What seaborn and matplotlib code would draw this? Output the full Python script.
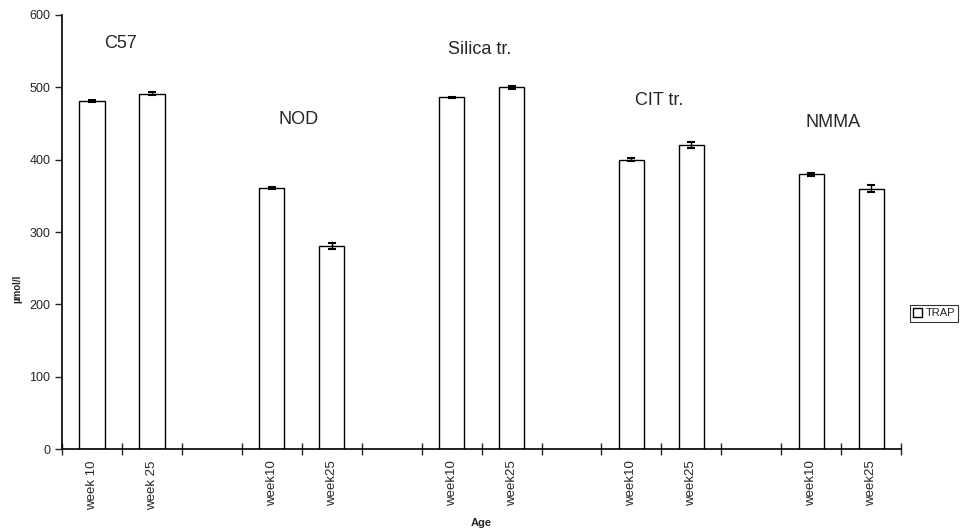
import numpy as np
import pandas as pd
import matplotlib
matplotlib.use("Agg")
import matplotlib.pyplot as plt
import seaborn as sns
from matplotlib.patches import Patch

# Data
slots = ["w10_C57", "w25_C57", "gap1", "w10_NOD", "w25_NOD", "gap2",
         "w10_Sil", "w25_Sil", "gap3", "w10_CIT", "w25_CIT", "gap4",
         "w10_NMMA", "w25_NMMA"]
tick_labels = ["week 10", "week 25", "", "week10", "week25", "",
               "week10", "week25", "", "week10", "week25", "",
               "week10", "week25"]
trap = [481, 491, np.nan, 361, 281, np.nan, 486, 500, np.nan,
        400, 420, np.nan, 380, 360]
trap_err = [2, 2, np.nan, 1, 4, np.nan, 1, 2, np.nan,
            2, 4, np.nan, 2, 5]
groups = ["C57", "NOD", "Silica tr.", "CIT tr.", "NMMA"]
group_x = [0.48, 3.45, 6.47, 9.47, 12.37]
group_y = [560, 455, 552, 482, 452]

sns.set_style("white")
plt.rcParams["font.family"] = ["Liberation Sans", "DejaVu Sans"]

df = pd.DataFrame({"slot": slots, "trap": trap})

fig = plt.figure(figsize=(9.69, 5.31), dpi=100)
ax = fig.add_axes([0.064, 0.154, 0.866, 0.818])

sns.barplot(data=df, x="slot", y="trap", order=slots, color="white",
            edgecolor="black", linewidth=1.0, width=0.42, errorbar=None, ax=ax)
ax.errorbar(np.arange(len(slots)), trap, yerr=trap_err, fmt="none",
            ecolor="black", elinewidth=1.0, capsize=3, capthick=1.5)

ax.set_xlim(-0.5, len(slots) - 0.5)
ax.set_ylim(0, 600)
ax.set_yticks(range(0, 601, 100))
ax.tick_params(axis="y", labelsize=9, length=5, width=1, direction="out", left=True)

# boundary ticks (no labels) + centered labels
ax.set_xticks(np.arange(-0.5, len(slots), 1))
ax.set_xticklabels([])
ax.tick_params(axis="x", which="major", length=8, width=1, direction="inout", bottom=True)
ax.set_xticks(np.arange(len(slots)), minor=True)
ax.set_xticklabels(tick_labels, minor=True, rotation=90, fontsize=9.5)
ax.tick_params(axis="x", which="minor", length=0, pad=8)

for s in ["top", "right"]:
    ax.spines[s].set_visible(False)
for s in ["left", "bottom"]:
    ax.spines[s].set_color("black")
    ax.spines[s].set_linewidth(1.2)

ax.set_ylabel("\u00b5mol/l", fontsize=7, fontweight="bold")
ax.yaxis.set_label_coords(-0.047, 0.37)
ax.set_xlabel("Age", fontsize=8, fontweight="bold", labelpad=6)

for g, gx, gy in zip(groups, group_x, group_y):
    ax.text(gx, gy, g, ha="center", va="center", fontsize=13)

leg = fig.legend(handles=[Patch(facecolor="white", edgecolor="black", label="TRAP")],
                 loc="center", bbox_to_anchor=(0.964, 0.41), fontsize=8,
                 frameon=True, fancybox=False, edgecolor="black",
                 handlelength=0.8, handleheight=0.8, handletextpad=0.3,
                 borderpad=0.3)
leg.get_frame().set_linewidth(0.8)

fig.savefig("out.png", dpi=100)
